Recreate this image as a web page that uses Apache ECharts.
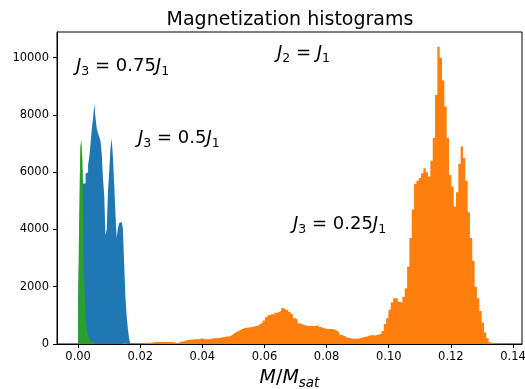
<!DOCTYPE html>
<html>
<head>
<meta charset="utf-8">
<script src="https://cdn.jsdelivr.net/npm/echarts@6/dist/echarts.min.js"></script>
<style>
html,body{margin:0;padding:0;background:#fff;}
#chart{width:525px;height:389px;}
</style>
</head>
<body>
<div id="chart"></div>
<script>
// ---- Data (histogram counts) ----
const xTicks = [0.00, 0.02, 0.04, 0.06, 0.08, 0.10, 0.12, 0.14];
const yTicks = [0, 2000, 4000, 6000, 8000, 10000];

// J3 = 0.5 J1 (blue)
const blueBinStart = 0.0;
const blueBinWidth = 0.0004;
const blueCounts = [1500, 3500, 5500, 6300, 5610, 5610, 5950, 6000, 6250, 6540,
  7000, 7500, 7880, 8380, 7900, 7530, 7360, 7240, 7100, 6660,
  5790, 5200, 3800, 4000, 5300, 6000, 6840, 7180, 6540, 5610,
  4620, 3690, 4040, 4215, 4270, 4270, 4040, 2875, 1710, 1010,
  550, 200];

// J3 = 0.25 J1 (orange)
const orangeBinStart = 0.0144;
const orangeBinWidth = 0.00075;
const orangeCounts = [20, 0, 0, 0, 0, 0, 0, 0, 10, 45,
  45, 45, 50, 70, 70, 70, 70, 70, 70, 70,
  70, 60, 35, 35, 90, 90, 120, 140, 150, 160,
  165, 165, 170, 200, 175, 170, 165, 180, 200, 205,
  210, 215, 240, 255, 260, 270, 315, 380, 430, 470,
  510, 550, 565, 580, 585, 600, 630, 640, 700, 745,
  820, 930, 1000, 1050, 1020, 1090, 1120, 1165, 1260, 1200,
  1190, 1120, 1050, 900, 860, 725, 690, 660, 640, 630,
  630, 630, 630, 665, 590, 560, 540, 525, 525, 525,
  500, 465, 400, 315, 290, 235, 220, 200, 185, 180,
  185, 220, 230, 255, 260, 300, 315, 300, 315, 330,
  370, 450, 700, 900, 1200, 1450, 1595, 1595, 1480, 1450,
  1650, 1950, 2700, 3700, 4700, 5600, 5700, 5800, 5960, 6140,
  6000, 5850, 6400, 7200, 8700, 10380, 10000, 9200, 8300, 7200,
  5900, 5500, 4800, 5300, 6300, 6900, 6500, 5700, 4600, 3700,
  2900, 2000, 1600, 1150, 750, 400, 200, 60, 20, 15,
  10, 5];

// J3 = 0.75 J1 (green)
const greenBinStart = 0.0;
const greenBinWidth = 0.00035;
const greenCounts = [1190, 4600, 6900, 7130, 6400, 3000, 1700, 900, 500, 300,
  200, 120, 80, 50, 30, 15];

function stepData(start, width, counts) {
  const pts = counts.map((c, i) => [start + i * width, c]);
  pts.push([start + counts.length * width, 0]);
  return pts;
}

function histSeries(name, color, start, width, counts) {
  return {
    name: name,
    type: 'line',
    step: 'end',
    data: stepData(start, width, counts),
    symbol: 'none',
    showSymbol: false,
    lineStyle: { width: 0 },
    areaStyle: { color: color, opacity: 1 },
    itemStyle: { color: color },
    silent: true,
    animation: false
  };
}

const FONT = 'DejaVu Sans';
const LH = 24;
const mathRich = {
  i: { fontFamily: FONT, fontStyle: 'italic', fontSize: 18, color: '#000', lineHeight: LH, verticalAlign: 'middle' },
  n: { fontFamily: FONT, fontSize: 18, color: '#000', lineHeight: LH, verticalAlign: 'middle' },
  s: { fontFamily: FONT, fontSize: 12.5, color: '#000', lineHeight: 13, verticalAlign: 'bottom' }
};

const chart = echarts.init(document.getElementById('chart'), null, { renderer: 'canvas' });
chart.setOption({
  animation: false,
  backgroundColor: '#fff',
  title: {
    text: 'Magnetization histograms',
    left: 290,
    textAlign: 'center',
    top: 11,
    padding: 0,
    textStyle: { fontFamily: FONT, fontSize: 19, fontWeight: 'normal', color: '#000' }
  },
  grid: {
    left: 57, right: 3, top: 32, bottom: 45,
    containLabel: false,
    outerBoundsMode: 'none',
    show: true, borderColor: '#000', borderWidth: 1, backgroundColor: 'transparent'
  },
  xAxis: {
    type: 'value',
    min: -0.0068,
    max: 0.1429,
    axisLine: { show: true, onZero: false, lineStyle: { color: '#000', width: 1 } },
    axisTick: { show: true, length: 4, lineStyle: { color: '#000' }, customValues: xTicks },
    axisLabel: {
      customValues: xTicks,
      formatter: v => v.toFixed(2),
      fontFamily: FONT, fontSize: 11.5, color: '#000', margin: 7
    },
    splitLine: { show: false },
    name: '{i|M}{n|/}{i|M}{s|sat}',
    nameLocation: 'middle',
    nameGap: 22,
    nameTextStyle: {
      rich: {
        i: { fontFamily: FONT, fontStyle: 'italic', fontSize: 19, color: '#000', lineHeight: 24, verticalAlign: 'middle' },
        n: { fontFamily: FONT, fontSize: 19, color: '#000', lineHeight: 24, verticalAlign: 'middle' },
        s: { fontFamily: FONT, fontStyle: 'italic', fontSize: 13.5, color: '#000', lineHeight: 14, verticalAlign: 'bottom' }
      }
    }
  },
  yAxis: {
    type: 'value',
    min: 0,
    max: 10898,
    axisLine: { show: true, onZero: false, lineStyle: { color: '#000', width: 1 } },
    axisTick: { show: true, length: 4, lineStyle: { color: '#000' }, customValues: yTicks },
    axisLabel: {
      customValues: yTicks,
      formatter: v => String(v),
      fontFamily: FONT, fontSize: 11.5, color: '#000', margin: 8
    },
    splitLine: { show: false }
  },
  series: [
    histSeries('J3=0.5J1', '#1f77b4', blueBinStart, blueBinWidth, blueCounts),
    histSeries('J3=0.25J1', '#ff7f0e', orangeBinStart, orangeBinWidth, orangeCounts),
    histSeries('J3=0.75J1', '#2ca02c', greenBinStart, greenBinWidth, greenCounts)
  ],
  graphic: [
    { type: 'text', left: 76, top: 57, style: { text: '{i|J}{s|3}{n| = 0.75}{i|J}{s|1}', rich: mathRich } },
    { type: 'text', left: 277, top: 44, style: { text: '{i|J}{s|2}{n| = }{i|J}{s|1}', rich: mathRich } },
    { type: 'text', left: 138, top: 129, style: { text: '{i|J}{s|3}{n| = 0.5}{i|J}{s|1}', rich: mathRich } },
    { type: 'text', left: 293, top: 215, style: { text: '{i|J}{s|3}{n| = 0.25}{i|J}{s|1}', rich: mathRich } }
  ]
});
</script>
</body>
</html>
